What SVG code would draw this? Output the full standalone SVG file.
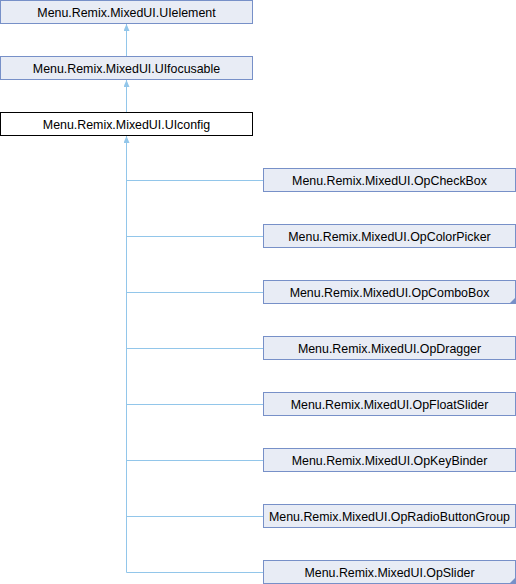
<svg xmlns="http://www.w3.org/2000/svg" width="516" height="584" viewBox="0 0 516 584">
<style>
.b{fill:#e8ecf5;stroke:#7790c8;stroke-width:1}
.c{fill:#ffffff;stroke:#000000;stroke-width:1}
.t{font-family:"Liberation Sans",Arial,sans-serif;font-size:12.4px;fill:#000;text-anchor:middle}
.e{fill:none;stroke:#92c6ea;stroke-width:1}
.f{fill:#7790c8;stroke:none}
</style>
<defs>
<marker id="ah" viewBox="0 0 6 7" refX="3" refY="0" markerWidth="6" markerHeight="7" orient="0" markerUnits="userSpaceOnUse">
<path d="M3,0 L6,7 L0,7 Z" fill="#92c6ea"/>
</marker>
</defs>
<g id="connectors">
<path class="e" d="M126.5,24 V56" marker-start="url(#ah)"/>
<path class="e" d="M126.5,80 V112" marker-start="url(#ah)"/>
<path class="e" d="M126.5,136 V572.5" marker-start="url(#ah)"/>
<path class="e" d="M126.5,180.5 H263 M126.5,236.5 H263 M126.5,292.5 H263 M126.5,348.5 H263 M126.5,404.5 H263 M126.5,460.5 H263 M126.5,516.5 H263 M126.5,572.5 H263"/>
</g>
<g id="n_uielement"><rect class="b" x="0.5" y="0.5" width="252" height="23"/><text class="t" x="126.5" y="16.5">Menu.Remix.MixedUI.UIelement</text></g>
<g id="n_uifocusable"><rect class="b" x="0.5" y="56.5" width="252" height="23"/><text class="t" x="126.5" y="72.5">Menu.Remix.MixedUI.UIfocusable</text></g>
<g id="n_uiconfig"><rect class="c" x="0.5" y="112.5" width="252" height="23"/><text class="t" x="126.5" y="128.5">Menu.Remix.MixedUI.UIconfig</text></g>
<g id="n_checkbox"><rect class="b" x="263.5" y="168.5" width="252" height="23"/><text class="t" x="389.5" y="184.5">Menu.Remix.MixedUI.OpCheckBox</text></g>
<g id="n_colorpicker"><rect class="b" x="263.5" y="224.5" width="252" height="23"/><text class="t" x="389.5" y="240.5">Menu.Remix.MixedUI.OpColorPicker</text></g>
<g id="n_combobox"><rect class="b" x="263.5" y="280.5" width="252" height="23"/><path class="f" d="M516,297 V304 H509 Z"/><text class="t" x="389.5" y="296.5">Menu.Remix.MixedUI.OpComboBox</text></g>
<g id="n_dragger"><rect class="b" x="263.5" y="336.5" width="252" height="23"/><text class="t" x="389.5" y="352.5">Menu.Remix.MixedUI.OpDragger</text></g>
<g id="n_floatslider"><rect class="b" x="263.5" y="392.5" width="252" height="23"/><text class="t" x="389.5" y="408.5">Menu.Remix.MixedUI.OpFloatSlider</text></g>
<g id="n_keybinder"><rect class="b" x="263.5" y="448.5" width="252" height="23"/><text class="t" x="389.5" y="464.5">Menu.Remix.MixedUI.OpKeyBinder</text></g>
<g id="n_radiobuttongroup"><rect class="b" x="263.5" y="504.5" width="252" height="23"/><text class="t" x="389.5" y="520.5">Menu.Remix.MixedUI.OpRadioButtonGroup</text></g>
<g id="n_slider"><rect class="b" x="263.5" y="560.5" width="252" height="23"/><path class="f" d="M516,577 V584 H509 Z"/><text class="t" x="389.5" y="576.5">Menu.Remix.MixedUI.OpSlider</text></g>
</svg>
